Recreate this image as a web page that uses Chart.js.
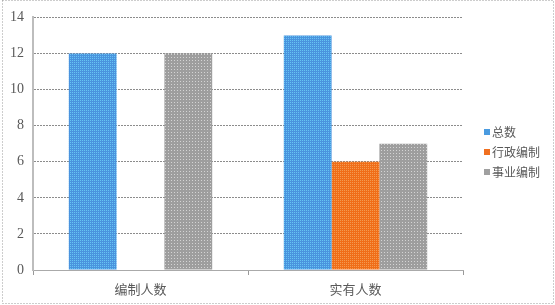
<!DOCTYPE html>
<html>
<head>
<meta charset="utf-8">
<script src="https://cdn.jsdelivr.net/npm/chart.js@4"></script>
<style>
  html, body { margin: 0; padding: 0; background: #fff; }
  #wrap { width: 555px; height: 305px; }
</style>
</head>
<body>
<div id="wrap"><canvas id="chart" width="555" height="305"></canvas></div>
<script>
// données
const categories = ["编制人数", "实有人数"];
const seriesNames = ["总数", "行政编制", "事业编制"];
const totalValues = [12, 13];
const adminValues = [0, 6];
const instValues = [12, 7];
const yTicks = [0, 2, 4, 6, 8, 10, 12, 14];

// petits motifs tramés comme dans l'original
function makePattern(base, dot, step) {
    const c = document.createElement("canvas");
    c.width = step; c.height = step;
    const g = c.getContext("2d");
    g.fillStyle = base;
    g.fillRect(0, 0, step, step);
    g.fillStyle = dot;
    g.fillRect(0, 0, 1, 1);
    return g.createPattern(c, "repeat");
}

const ctx = document.getElementById("chart").getContext("2d");
const blue = makePattern("#4a93de", "#66c4f2", 2);
const orange = makePattern("#f06d18", "#f39a50", 2);
const gray = makePattern("#9e9e9e", "#d4d4d4", 3);
const colors = [blue, orange, gray];
const legendColors = ["#4a9be0", "#f07020", "#a0a0a0"];

const fontSerif = "Liberation Serif, Times New Roman, serif";

// cadre + légende dessinés à la main
const frame = {
    id: "frame",
    afterDraw(chart) {
        const c = chart.ctx;
        c.save();
        c.strokeStyle = "#9a9a9a";
        c.lineWidth = 1;
        c.setLineDash([1, 2]);
        c.strokeRect(2.5, 0.5, 551, 303);
        c.setLineDash([]);
        c.font = "12px 'Noto Sans CJK SC', sans-serif";
        c.textBaseline = "middle";
        seriesNames.forEach((name, i) => {
            const y = 132 + i * 20;
            c.fillStyle = legendColors[i];
            c.fillRect(484, y - 3, 6, 6);
            c.fillStyle = "#595959";
            c.fillText(name, 492, y);
        });
        c.restore();
    }
};

new Chart(ctx, {
    type: "bar",
    data: {
        labels: categories,
        datasets: [
            { label: seriesNames[0], data: totalValues, backgroundColor: colors[0] },
            { label: seriesNames[1], data: adminValues, backgroundColor: colors[1] },
            { label: seriesNames[2], data: instValues, backgroundColor: colors[2] }
        ]
    },
    options: {
        responsive: false,
        animation: false,
        layout: { padding: { left: 0, right: 92, top: 15, bottom: 0 } },
        datasets: { bar: { categoryPercentage: 0.667, barPercentage: 1, borderWidth: 0 } },
        plugins: { legend: { display: false }, tooltip: { enabled: false } },
        scales: {
            x: {
                afterFit: s => { s.height = 35; },
                grid: { offset: true, drawOnChartArea: false, drawTicks: true, tickLength: 5, color: "#999" },
                border: { color: "#aaa", dash: [1, 1] },
                ticks: { color: "#595959", font: { family: "'Noto Sans CJK SC', sans-serif", size: 13 }, padding: 6 }
            },
            y: {
                min: 0,
                max: 14,
                afterFit: s => { s.width = 33; },
                afterBuildTicks: s => { s.ticks = yTicks.map(v => ({ value: v })); },
                grid: { color: "#8c8c8c", drawTicks: false },
                border: { color: "#bdbdbd", width: 2, dash: [2, 1] },
                ticks: { color: "#595959", font: { family: fontSerif, size: 14 }, padding: 9 }
            }
        }
    },
    plugins: [frame]
});
</script>
</body>
</html>
